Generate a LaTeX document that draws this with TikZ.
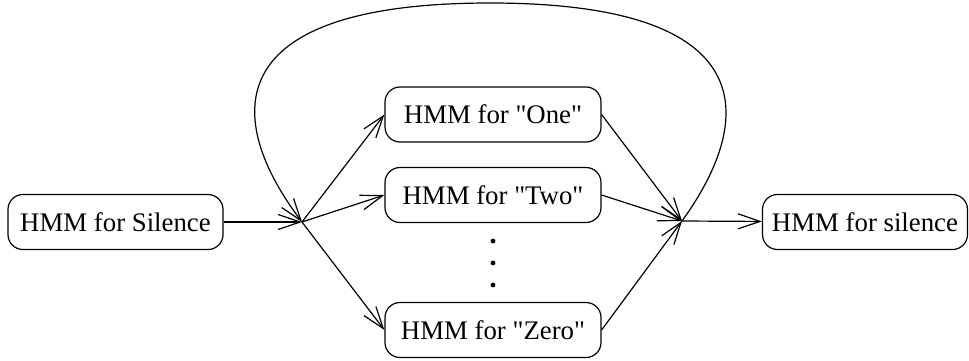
\documentclass[tikz,border=0pt]{standalone}
\usepackage{fontspec}
% plain quotes, no TeX mapping
\setmainfont{Liberation Serif}[Ligatures=TeXOff]
\usetikzlibrary{positioning,arrows.meta}
\tikzset{
  hmm-box/.style={draw,line width=0.6pt,rounded corners=7.5pt,
    minimum height=27.5pt,inner sep=2pt,align=center,
    font=\fontsize{13.4}{15}\selectfont},
  arrow/.style={-{Straight Barb[length=11pt,width=7.5pt,line width=0.6pt]},
    line width=0.6pt},
}

\begin{document}
\begin{tikzpicture}[x=0.5pt,y=-0.5pt]
  \useasboundingbox (0,0) rectangle (969,360);
  % silence models at both ends
  \node[hmm-box,minimum width=107.5pt] (sil-in) at (115.5,222) {HMM for Silence};
  \node[hmm-box,minimum width=102.5pt] (sil-out) at (865,222) {HMM for silence};
  % word models
  \node[hmm-box,minimum width=108pt] (w-one) at (493,114.5) {HMM for "One"};
  \node[hmm-box,minimum width=108pt] (w-two) at (493,195) {HMM for "Two"};
  \node[hmm-box,minimum width=108pt] (w-zero) at (493,330) {HMM for "Zero"};
  \foreach \y in {241,263,285}
    \fill (493,\y) circle (2.4);
  % branch points
  \coordinate (fork) at (302,222);
  \coordinate (join) at (682,221);
  \draw[arrow] (sil-in) -- (fork);
  \draw[arrow] (fork) -- (w-one.west);
  \draw[arrow] (fork) -- (w-two.west);
  \draw[arrow] (fork) -- (w-zero.west);
  \draw[arrow] (w-one.east) -- (join);
  \draw[arrow] (w-two.east) -- (join);
  \draw[arrow] (w-zero.east) -- (join);
  \draw[arrow] (join) -- (sil-out);
  % loop back for the next word
  \draw[arrow] (join) .. controls (755,120) and (765,3) .. (490,3)
    .. controls (215,3) and (225,120) .. (fork);
\end{tikzpicture}
\end{document}
